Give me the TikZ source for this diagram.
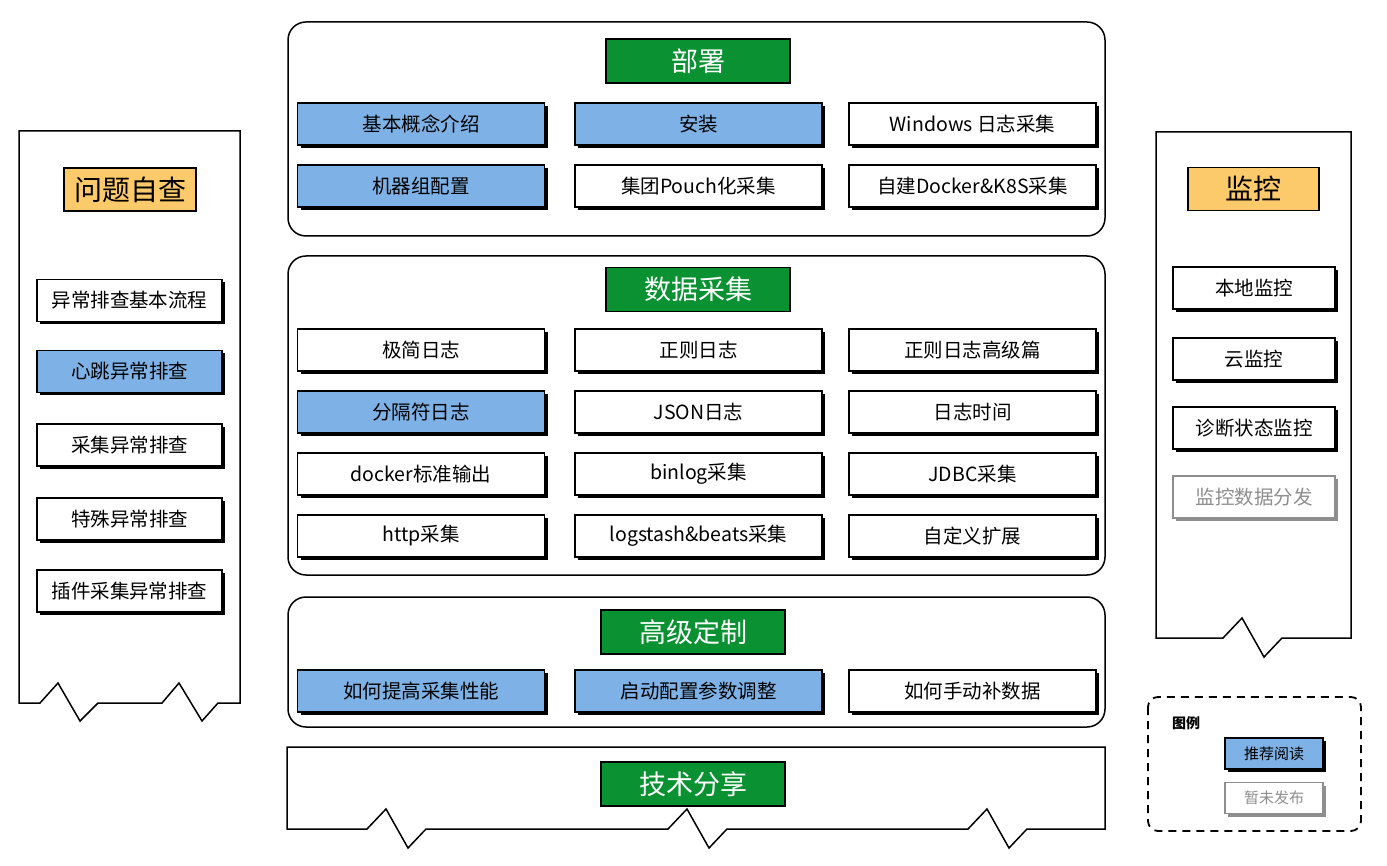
\documentclass[tikz,border=0pt]{standalone}
\usepackage{fontspec}
\setmainfont{Noto Sans CJK SC}
\usepackage{xcolor}
\usepackage{tikz}
\usetikzlibrary{shadows}
\definecolor{readblue}{HTML}{7EB2E6}
\definecolor{titlegreen}{HTML}{0A9232}
\definecolor{titleorange}{HTML}{FCC96B}
\definecolor{draftgray}{HTML}{8E8E8E}

\tikzset{
  panel/.style={draw=black,line width=1.5pt,rounded corners=18pt},
  banner/.style={draw=black,line width=1.5pt,line join=miter},
  boxbase/.style={draw=black,line width=1.2pt,fill=white,inner sep=0pt,
    font=\fontsize{19.5}{21}\selectfont},
  item/.style={boxbase,minimum width=247pt,minimum height=42pt,
    drop shadow={shadow xshift=3pt,shadow yshift=-3pt,fill=black,opacity=1}},
  sideitem/.style={item,minimum width=185pt},
  monitem/.style={item,minimum width=162pt},
  draft/.style={boxbase,draw=draftgray,text=draftgray,minimum width=162pt,minimum height=42pt,
    drop shadow={shadow xshift=3pt,shadow yshift=-3pt,fill=draftgray,opacity=1}},
  secttitle/.style={draw=black,line width=1.2pt,fill=titlegreen,text=white,
    minimum width=184pt,minimum height=44pt,inner sep=0pt,font=\fontsize{27}{29}\selectfont},
  sidetitle/.style={draw=black,line width=1.2pt,fill=titleorange,
    minimum width=132pt,minimum height=43pt,inner sep=0pt,font=\fontsize{28}{30}\selectfont},
  legitem/.style={boxbase,minimum width=98pt,minimum height=31pt,font=\fontsize{15}{17}\selectfont,
    drop shadow={shadow xshift=3pt,shadow yshift=-3pt,fill=black,opacity=1}},
  legdraft/.style={boxbase,draw=draftgray,text=draftgray,minimum width=98pt,minimum height=31pt,
    font=\fontsize{15}{17}\selectfont,
    drop shadow={shadow xshift=3pt,shadow yshift=-3pt,fill=draftgray,opacity=1}}
}

\begin{document}
\begin{tikzpicture}[x=1pt,y=-1pt]
  \useasboundingbox (0,0) rectangle (1387,866);

  % left banner: self check
  \draw[banner] (19,131) -- (240,131) -- (240,703) -- (218,703) -- (202,721) -- (179,683)
    -- (162,703) -- (98,703) -- (80,721) -- (58,683) -- (40,703) -- (19,703) -- cycle;
  \node[sidetitle] (check) at (130,189.5) {问题自查};
  \node[sideitem] (chk1) at (129.5,300.5) {异常排查基本流程};
  \node[sideitem,fill=readblue] (chk2) at (129.5,371.5) {心跳异常排查};
  \node[sideitem] (chk3) at (129.5,445) {采集异常排查};
  \node[sideitem] (chk4) at (129.5,519) {特殊异常排查};
  \node[sideitem] (chk5) at (129.5,591) {插件采集异常排查};

  % right banner: monitoring
  \draw[banner] (1156,132) -- (1351,132) -- (1351,638) -- (1282,638) -- (1264,657)
    -- (1242,618) -- (1223,638) -- (1156,638) -- cycle;
  \node[sidetitle,minimum width=131pt] (mon) at (1253.5,189) {监控};
  \node[monitem] (mon1) at (1254,288) {本地监控};
  \node[monitem] (mon2) at (1254,359) {云监控};
  \node[monitem] (mon3) at (1254,428) {诊断状态监控};
  \node[draft] (mon4) at (1254,497) {监控数据分发};

  % deployment
  \draw[panel] (288,22) rectangle (1105,236);
  \node[secttitle] (deploy) at (698,61) {部署};
  \node[item,fill=readblue] (dep1) at (421,124) {基本概念介绍};
  \node[item,fill=readblue] (dep2) at (698.5,124) {安装};
  \node[item] (dep3) at (972.5,124) {Windows 日志采集};
  \node[item,fill=readblue] (dep4) at (421,186) {机器组配置};
  \node[item] (dep5) at (698.5,186) {集团Pouch化采集};
  \node[item] (dep6) at (972.5,186) {自建Docker\&K8S采集};

  % data collection
  \draw[panel] (288,256) rectangle (1105,575);
  \node[secttitle] (collect) at (698,289.5) {数据采集};
  \node[item] (col1) at (421,350) {极简日志};
  \node[item] (col2) at (698.5,350) {正则日志};
  \node[item] (col3) at (972.5,350) {正则日志高级篇};
  \node[item,fill=readblue] (col4) at (421,412) {分隔符日志};
  \node[item] (col5) at (698.5,412) {JSON日志};
  \node[item] (col6) at (972.5,412) {日志时间};
  \node[item] (col7) at (421,474) {docker标准输出};
  \node[item] (col8) at (698.5,474) {binlog采集};
  \node[item] (col9) at (972.5,474) {JDBC采集};
  \node[item] (col10) at (421,536) {http采集};
  \node[item] (col11) at (698.5,536) {logstash\&beats采集};
  \node[item] (col12) at (972.5,536) {自定义扩展};

  % advanced customization
  \draw[panel] (288,597) rectangle (1105,727);
  \node[secttitle] (custom) at (693,632) {高级定制};
  \node[item,fill=readblue] (cus1) at (421,691) {如何提高采集性能};
  \node[item,fill=readblue] (cus2) at (698.5,691) {启动配置参数调整};
  \node[item] (cus3) at (972.5,691) {如何手动补数据};

  % tech sharing
  \draw[banner] (287,747) -- (1105,747) -- (1105,829) -- (1027,829) -- (1009,848) -- (987,809)
    -- (968,829) -- (727,829) -- (709,848) -- (687,809) -- (668,829) -- (426,829)
    -- (408,848) -- (386,809) -- (367,829) -- (287,829) -- cycle;
  \node[secttitle] (share) at (693,784) {技术分享};

  % legend
  \draw[line width=1.8pt,dash pattern=on 8pt off 6pt,rounded corners=10pt] (1148,697) rectangle (1361,831);
  \node[font=\fontsize{14}{16}\selectfont\bfseries] (legend) at (1186,723) {图例};
  \node[legitem,fill=readblue] (leg1) at (1274,753.5) {推荐阅读};
  \node[legdraft] (leg2) at (1274,798) {暂未发布};
\end{tikzpicture}
\end{document}
